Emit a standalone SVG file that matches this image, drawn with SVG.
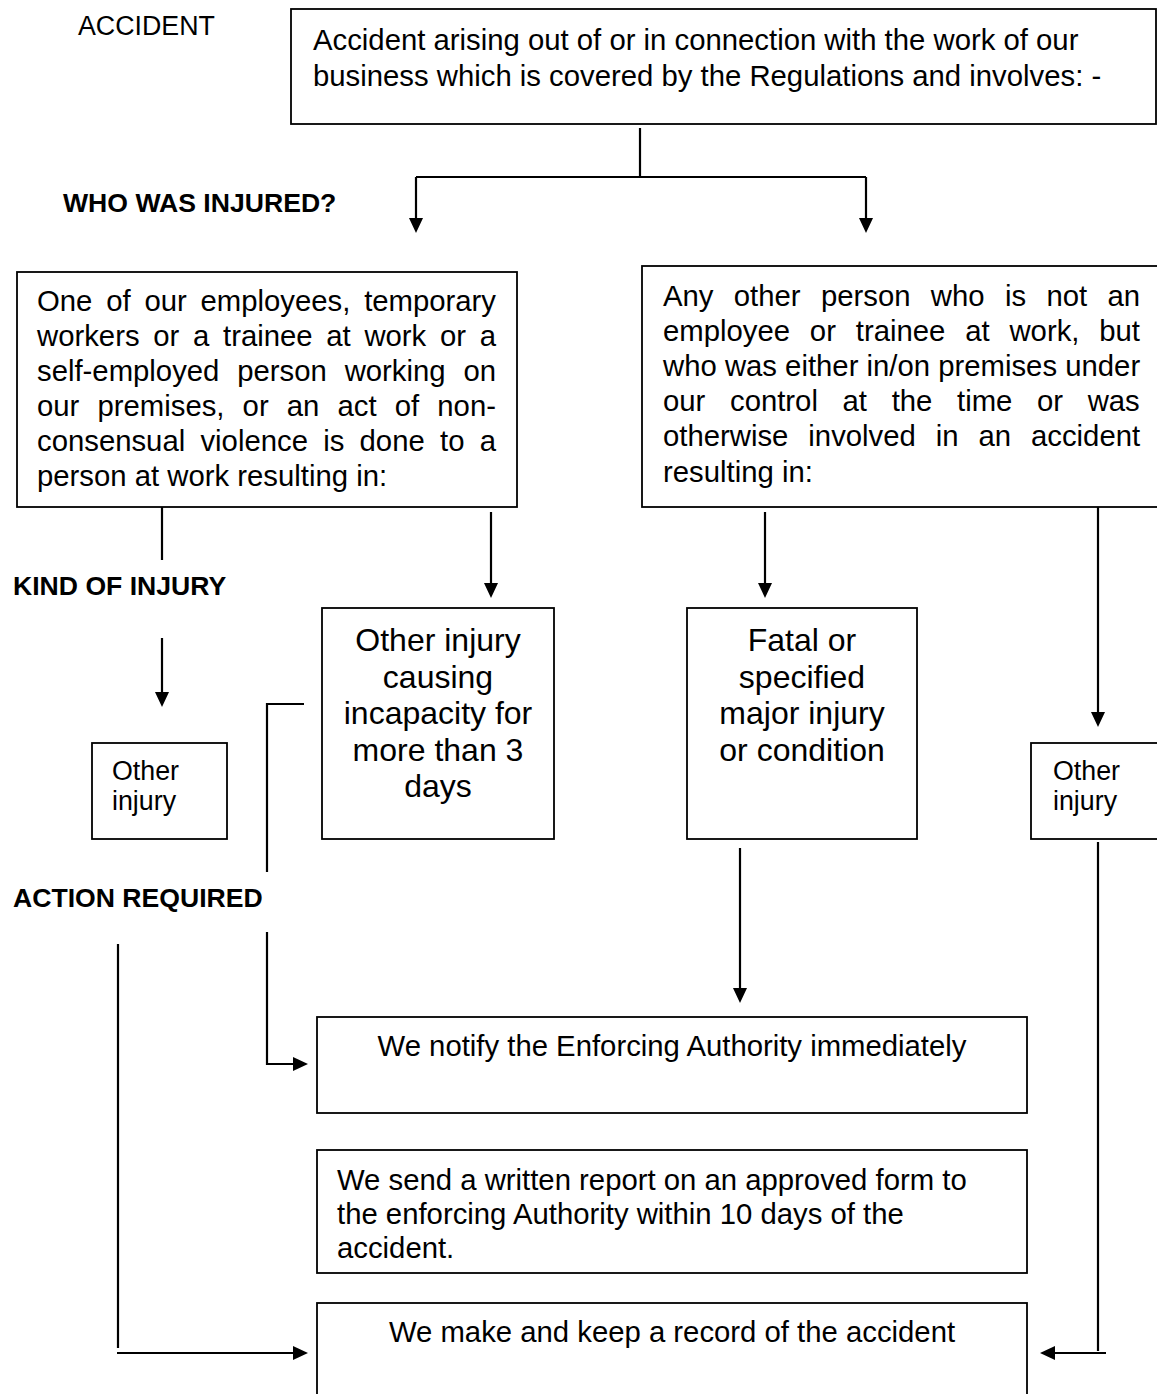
<svg xmlns="http://www.w3.org/2000/svg" width="1157" height="1394" viewBox="0 0 1157 1394">
<style>
text{font-family:"Liberation Sans",Arial,Helvetica,sans-serif;fill:#000}
.b{font-size:29.3px}
.big{font-size:32px;text-anchor:middle}
.sm{font-size:26.8px}
.lab{font-size:26.6px;font-weight:bold}
.box{fill:#fff;stroke:#000;stroke-width:1.8}
.c{fill:none;stroke:#000;stroke-width:2.2}
.mid{text-anchor:middle}
</style>
<defs>
<marker id="ah" markerUnits="userSpaceOnUse" markerWidth="15" markerHeight="14" refX="2" refY="7" orient="auto">
<path d="M0,0 L15,7 L0,14 z" fill="#000"/>
</marker>
</defs>

<g id="labels">
<text class="sm" x="78" y="35">ACCIDENT</text>
<text class="lab" x="63" y="212">WHO WAS INJURED?</text>
<text class="lab" x="13" y="595">KIND OF INJURY</text>
<text class="lab" x="13" y="907">ACTION REQUIRED</text>
</g>

<g id="connectors">
<path class="c" d="M640,128 V177"/>
<path class="c" d="M416,177 H866"/>
<path class="c" d="M416,177 V220" marker-end="url(#ah)"/>
<path class="c" d="M866,177 V220" marker-end="url(#ah)"/>
<path class="c" d="M162,507 V560"/>
<path class="c" d="M162,638 V694" marker-end="url(#ah)"/>
<path class="c" d="M491,512 V585" marker-end="url(#ah)"/>
<path class="c" d="M765,512 V585" marker-end="url(#ah)"/>
<path class="c" d="M1098,507 V714" marker-end="url(#ah)"/>
<path class="c" d="M304,704 H267 V872"/>
<path class="c" d="M267,932 V1064 H295" marker-end="url(#ah)"/>
<path class="c" d="M740,848 V990" marker-end="url(#ah)"/>
<path class="c" d="M118,944 V1348"/>
<path class="c" d="M117,1353 H295" marker-end="url(#ah)"/>
<path class="c" d="M1098,842 V1351"/>
<path class="c" d="M1106,1353 H1053" marker-end="url(#ah)"/>
</g>

<g id="accident">
<rect class="box" x="291" y="9" width="865" height="115"/>
<text class="b" x="313" y="50">Accident arising out of or in connection with the work of our</text>
<text class="b" x="313" y="86">business which is covered by the Regulations and involves: -</text>
</g>

<g id="employees">
<rect class="box" x="17" y="272" width="500" height="235"/>
<text class="b" x="37" y="311" word-spacing="5.65">One of our employees, temporary</text>
<text class="b" x="37" y="346" word-spacing="5.56">workers or a trainee at work or a</text>
<text class="b" x="37" y="381" word-spacing="9.7">self-employed person working on</text>
<text class="b" x="37" y="416" word-spacing="10">our premises, or an act of non-</text>
<text class="b" x="37" y="451" word-spacing="7.1">consensual violence is done to a</text>
<text class="b" x="37" y="486">person at work resulting in:</text>
</g>

<g id="other-person">
<rect class="box" x="642" y="266" width="528" height="241"/>
<text class="b" x="663" y="306" word-spacing="12.2">Any other person who is not an</text>
<text class="b" x="663" y="341" word-spacing="11.7">employee or trainee at work, but</text>
<text class="b" x="663" y="376">who was either in/on premises under</text>
<text class="b" x="663" y="411" word-spacing="16.5">our control at the time or was</text>
<text class="b" x="663" y="446" word-spacing="11.8">otherwise involved in an accident</text>
<text class="b" x="663" y="482">resulting in:</text>
</g>

<g id="other-injury-left">
<rect class="box" x="92" y="743" width="135" height="96"/>
<text class="sm" x="112" y="780">Other</text>
<text class="sm" x="112" y="810">injury</text>
</g>

<g id="incapacity">
<rect class="box" x="322" y="608" width="232" height="231"/>
<text class="big" x="438" y="651">Other injury</text>
<text class="big" x="438" y="688">causing</text>
<text class="big" x="438" y="724">incapacity for</text>
<text class="big" x="438" y="761">more than 3</text>
<text class="big" x="438" y="797">days</text>
</g>

<g id="fatal">
<rect class="box" x="687" y="608" width="230" height="231"/>
<text class="big" x="802" y="651">Fatal or</text>
<text class="big" x="802" y="688">specified</text>
<text class="big" x="802" y="724">major injury</text>
<text class="big" x="802" y="761">or condition</text>
</g>

<g id="other-injury-right">
<rect class="box" x="1031" y="743" width="140" height="96"/>
<text class="sm" x="1053" y="780">Other</text>
<text class="sm" x="1053" y="810">injury</text>
</g>

<g id="notify">
<rect class="box" x="317" y="1017" width="710" height="96"/>
<text class="b mid" x="672" y="1056">We notify the Enforcing Authority immediately</text>
</g>

<g id="report">
<rect class="box" x="317" y="1150" width="710" height="123"/>
<text class="b" x="337" y="1190">We send a written report on an approved form to</text>
<text class="b" x="337" y="1224">the enforcing Authority within 10 days of the</text>
<text class="b" x="337" y="1258">accident.</text>
</g>

<g id="record">
<rect class="box" x="317" y="1303" width="710" height="100"/>
<text class="b mid" x="672" y="1342">We make and keep a record of the accident</text>
</g>
</svg>
